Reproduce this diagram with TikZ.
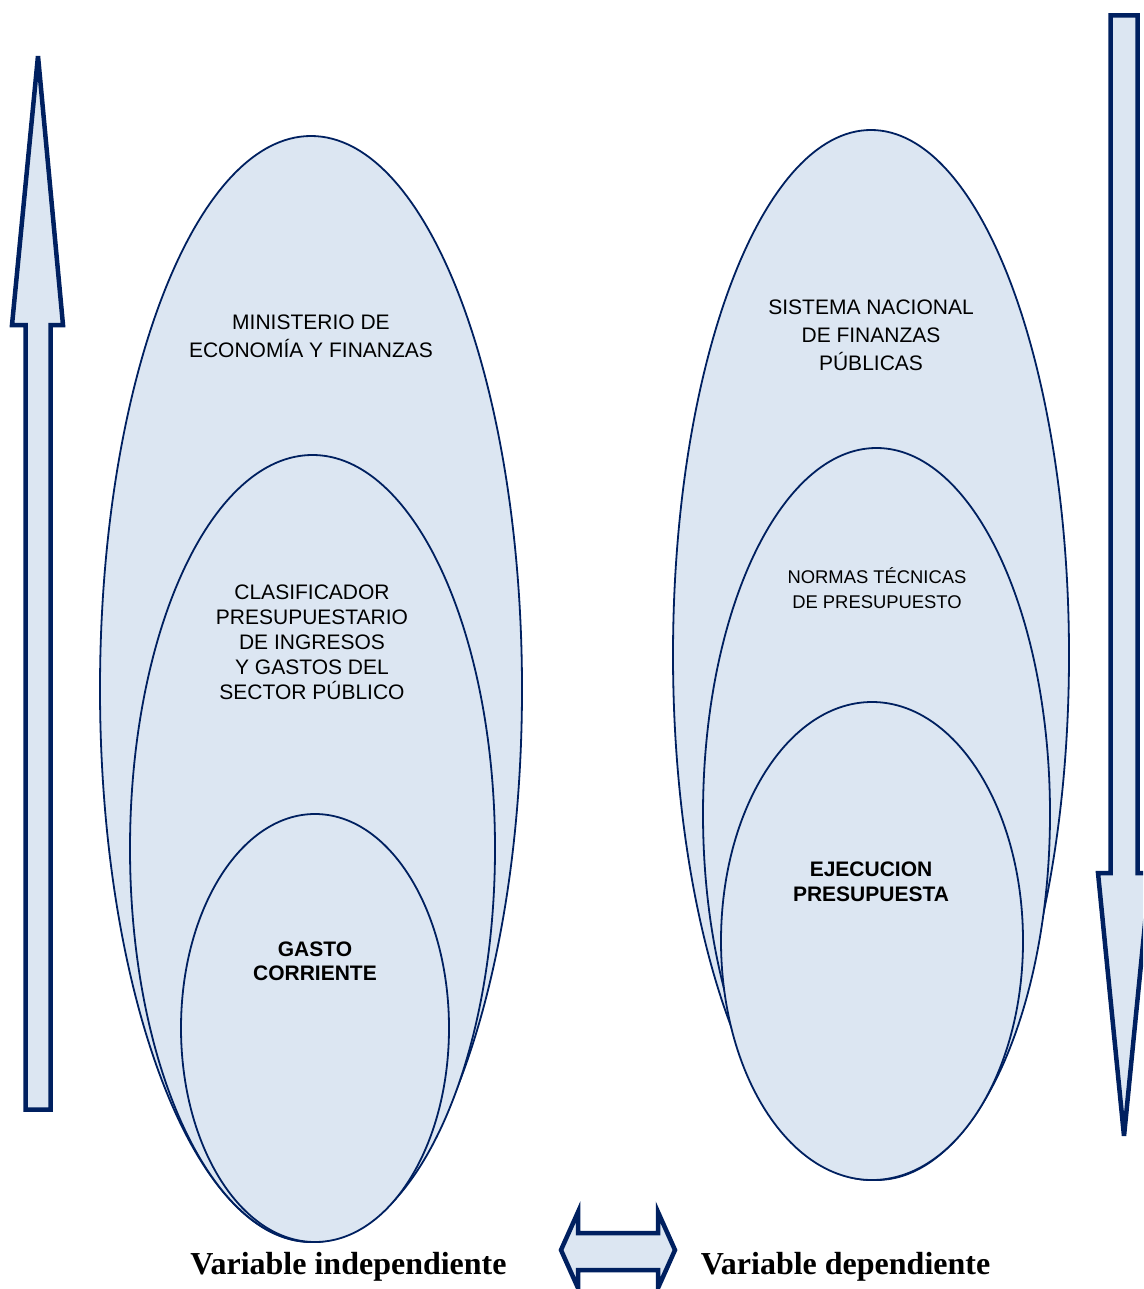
\documentclass[tikz,border=0pt]{standalone}
\usepackage{fontspec}
\setmainfont{Liberation Serif}
\newfontfamily\arialfont{Liberation Sans}
\usetikzlibrary{shapes.geometric}
\definecolor{navy}{HTML}{002060}
\definecolor{paleblue}{HTML}{DCE6F2}

\begin{document}
\begin{tikzpicture}[x=1pt,y=-1pt,
  ring/.style={ellipse, draw=navy, fill=paleblue, line width=1.8pt, inner sep=0pt},
  bigarrow/.style={draw=navy, fill=paleblue, line width=4.5pt},
  lbl/.style={font=\arialfont\fontsize{21}{28}\selectfont, align=center, text=black, inner sep=0pt},
  lbltight/.style={font=\arialfont\fontsize{21}{25}\selectfont, align=center, text=black, inner sep=0pt},
  lblsmall/.style={font=\arialfont\fontsize{18.4}{25}\selectfont, align=center, text=black, inner sep=0pt},
  lblbold/.style={font=\arialfont\bfseries\fontsize{21}{24.5}\selectfont, align=center, text=black, inner sep=0pt},
  caption/.style={font=\bfseries\fontsize{32}{36}\selectfont, text=black, inner sep=0pt, anchor=base}]
\useasboundingbox (0,0) rectangle (1143,1289);
\clip (0,0) rectangle (1143,1289);

% upward arrow on the left
\draw[bigarrow] (38,56) -- (63,325) -- (50.5,325) -- (50.5,1109.5) -- (25.5,1109.5)
  -- (25.5,325) -- (12,325) -- cycle;
% downward arrow on the right
\draw[bigarrow] (1124,1136) -- (1150,873) -- (1137.5,873) -- (1137.5,15.5)
  -- (1110.5,15.5) -- (1110.5,873) -- (1098,873) -- cycle;
% double-headed arrow between the captions
\draw[bigarrow] (561,1250) -- (578,1212) -- (578,1233) -- (658,1233) -- (658,1212)
  -- (675,1250) -- (658,1288) -- (658,1270) -- (578,1270) -- (578,1288) -- cycle;

% nested ellipses, independent variable
\node[ring, minimum width=422pt, minimum height=1106pt] (mef) at (311,689) {};
\node[ring, minimum width=365pt, minimum height=787pt] (clasif) at (312.5,848.5) {};
\node[ring, minimum width=268pt, minimum height=428pt] (gasto) at (315,1028) {};

% nested ellipses, dependent variable
\node[ring, minimum width=396pt, minimum height=1050pt] (snfp) at (871,655) {};
\node[ring, minimum width=347pt, minimum height=732pt] (normas) at (876.5,814) {};
\node[ring, minimum width=302pt, minimum height=478pt] (ejec) at (872,941) {};

% labels
\node[lbl] (tmef) at (311,336) {MINISTERIO DE\\ECONOMÍA Y FINANZAS};
\node[lbltight] (tclasif) at (312,642.5) {CLASIFICADOR\\PRESUPUESTARIO\\DE INGRESOS\\Y GASTOS DEL\\SECTOR PÚBLICO};
\node[lblbold] (tgasto) at (315,961.5) {GASTO\\CORRIENTE};
\node[lbl] (tsnfp) at (871,335) {SISTEMA NACIONAL\\DE FINANZAS\\PÚBLICAS};
\node[lblsmall] (tnormas) at (877,588.5) {NORMAS TÉCNICAS\\DE PRESUPUESTO};
\node[lblbold] (tejec) at (871,882) {EJECUCION\\PRESUPUESTA};

% captions
\node[caption] (vind) at (348.5,1274) {Variable independiente};
\node[caption] (vdep) at (845.5,1274) {Variable dependiente};
\end{tikzpicture}
\end{document}
